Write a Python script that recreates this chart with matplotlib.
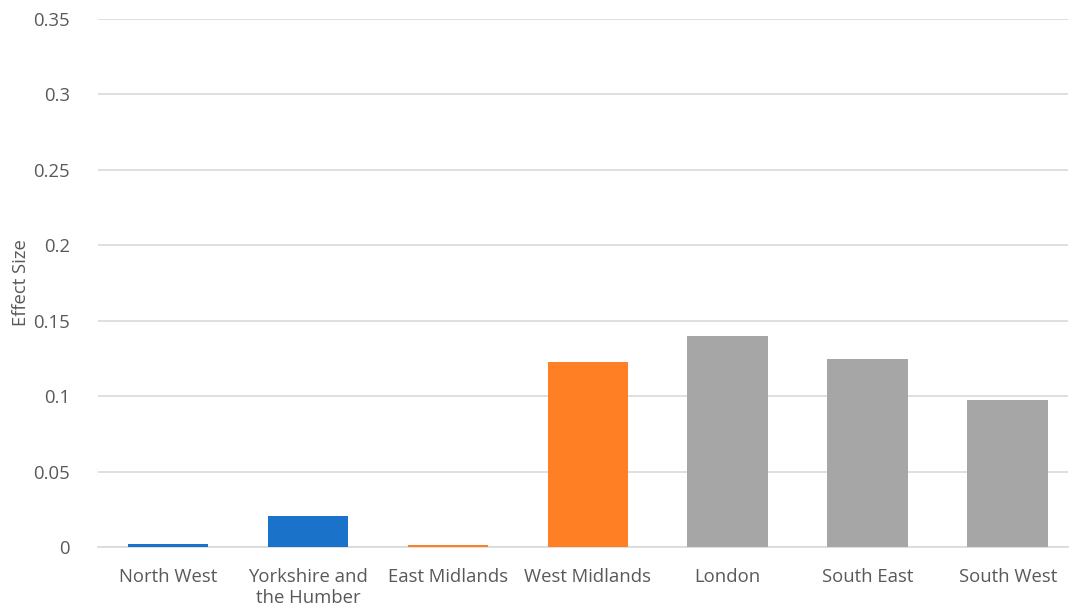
import matplotlib
matplotlib.use("Agg")
import matplotlib.pyplot as plt
import numpy as np

regions = ["North West", "Yorkshire and\nthe Humber", "East Midlands",
           "West Midlands", "London", "South East", "South West"]
effectSize = [0.0022, 0.0205, 0.0015, 0.1227, 0.1398, 0.1246, 0.0976]
barColors = ["#1A73C9", "#1A73C9", "#FF7F24", "#FF7F24",
             "#A6A6A6", "#A6A6A6", "#A6A6A6"]
yTicks = [0, 0.05, 0.1, 0.15, 0.2, 0.25, 0.3, 0.35]
yTickLabels = ["0", "0.05", "0.1", "0.15", "0.2", "0.25", "0.3", "0.35"]

plt.rcParams["font.family"] = ["Open Sans", "DejaVu Sans"]
textColor = "#595959"
fs = 13.3

fig = plt.figure(figsize=(10.70, 6.11), dpi=100)
ax = fig.add_axes([98/1070, 64/611, 970/1070, 528/611])

x = np.arange(len(regions))
ax.bar(x, effectSize, width=0.577, color=barColors, zorder=3)

ax.set_xlim(-0.5, 6.43)
ax.set_ylim(0, 0.35)
ax.set_yticks(yTicks)
ax.set_yticklabels(yTickLabels)
ax.set_xticks(x)
ax.set_xticklabels(regions, linespacing=1.25)

ax.grid(axis="y", color="#D9D9D9", lw=1.2, zorder=0)
for side in ["top", "right", "left"]:
    ax.spines[side].set_visible(False)
ax.spines["bottom"].set_color("#D9D9D9")
ax.spines["bottom"].set_linewidth(1.2)
ax.tick_params(axis="both", length=0, labelsize=fs, labelcolor=textColor)
ax.tick_params(axis="y", pad=20)
ax.tick_params(axis="x", pad=15)

ax.set_ylabel("Effect Size", fontsize=fs, color=textColor)
ax.yaxis.set_label_coords(-68/970, 0.5)

fig.savefig("out.png", dpi=100)
